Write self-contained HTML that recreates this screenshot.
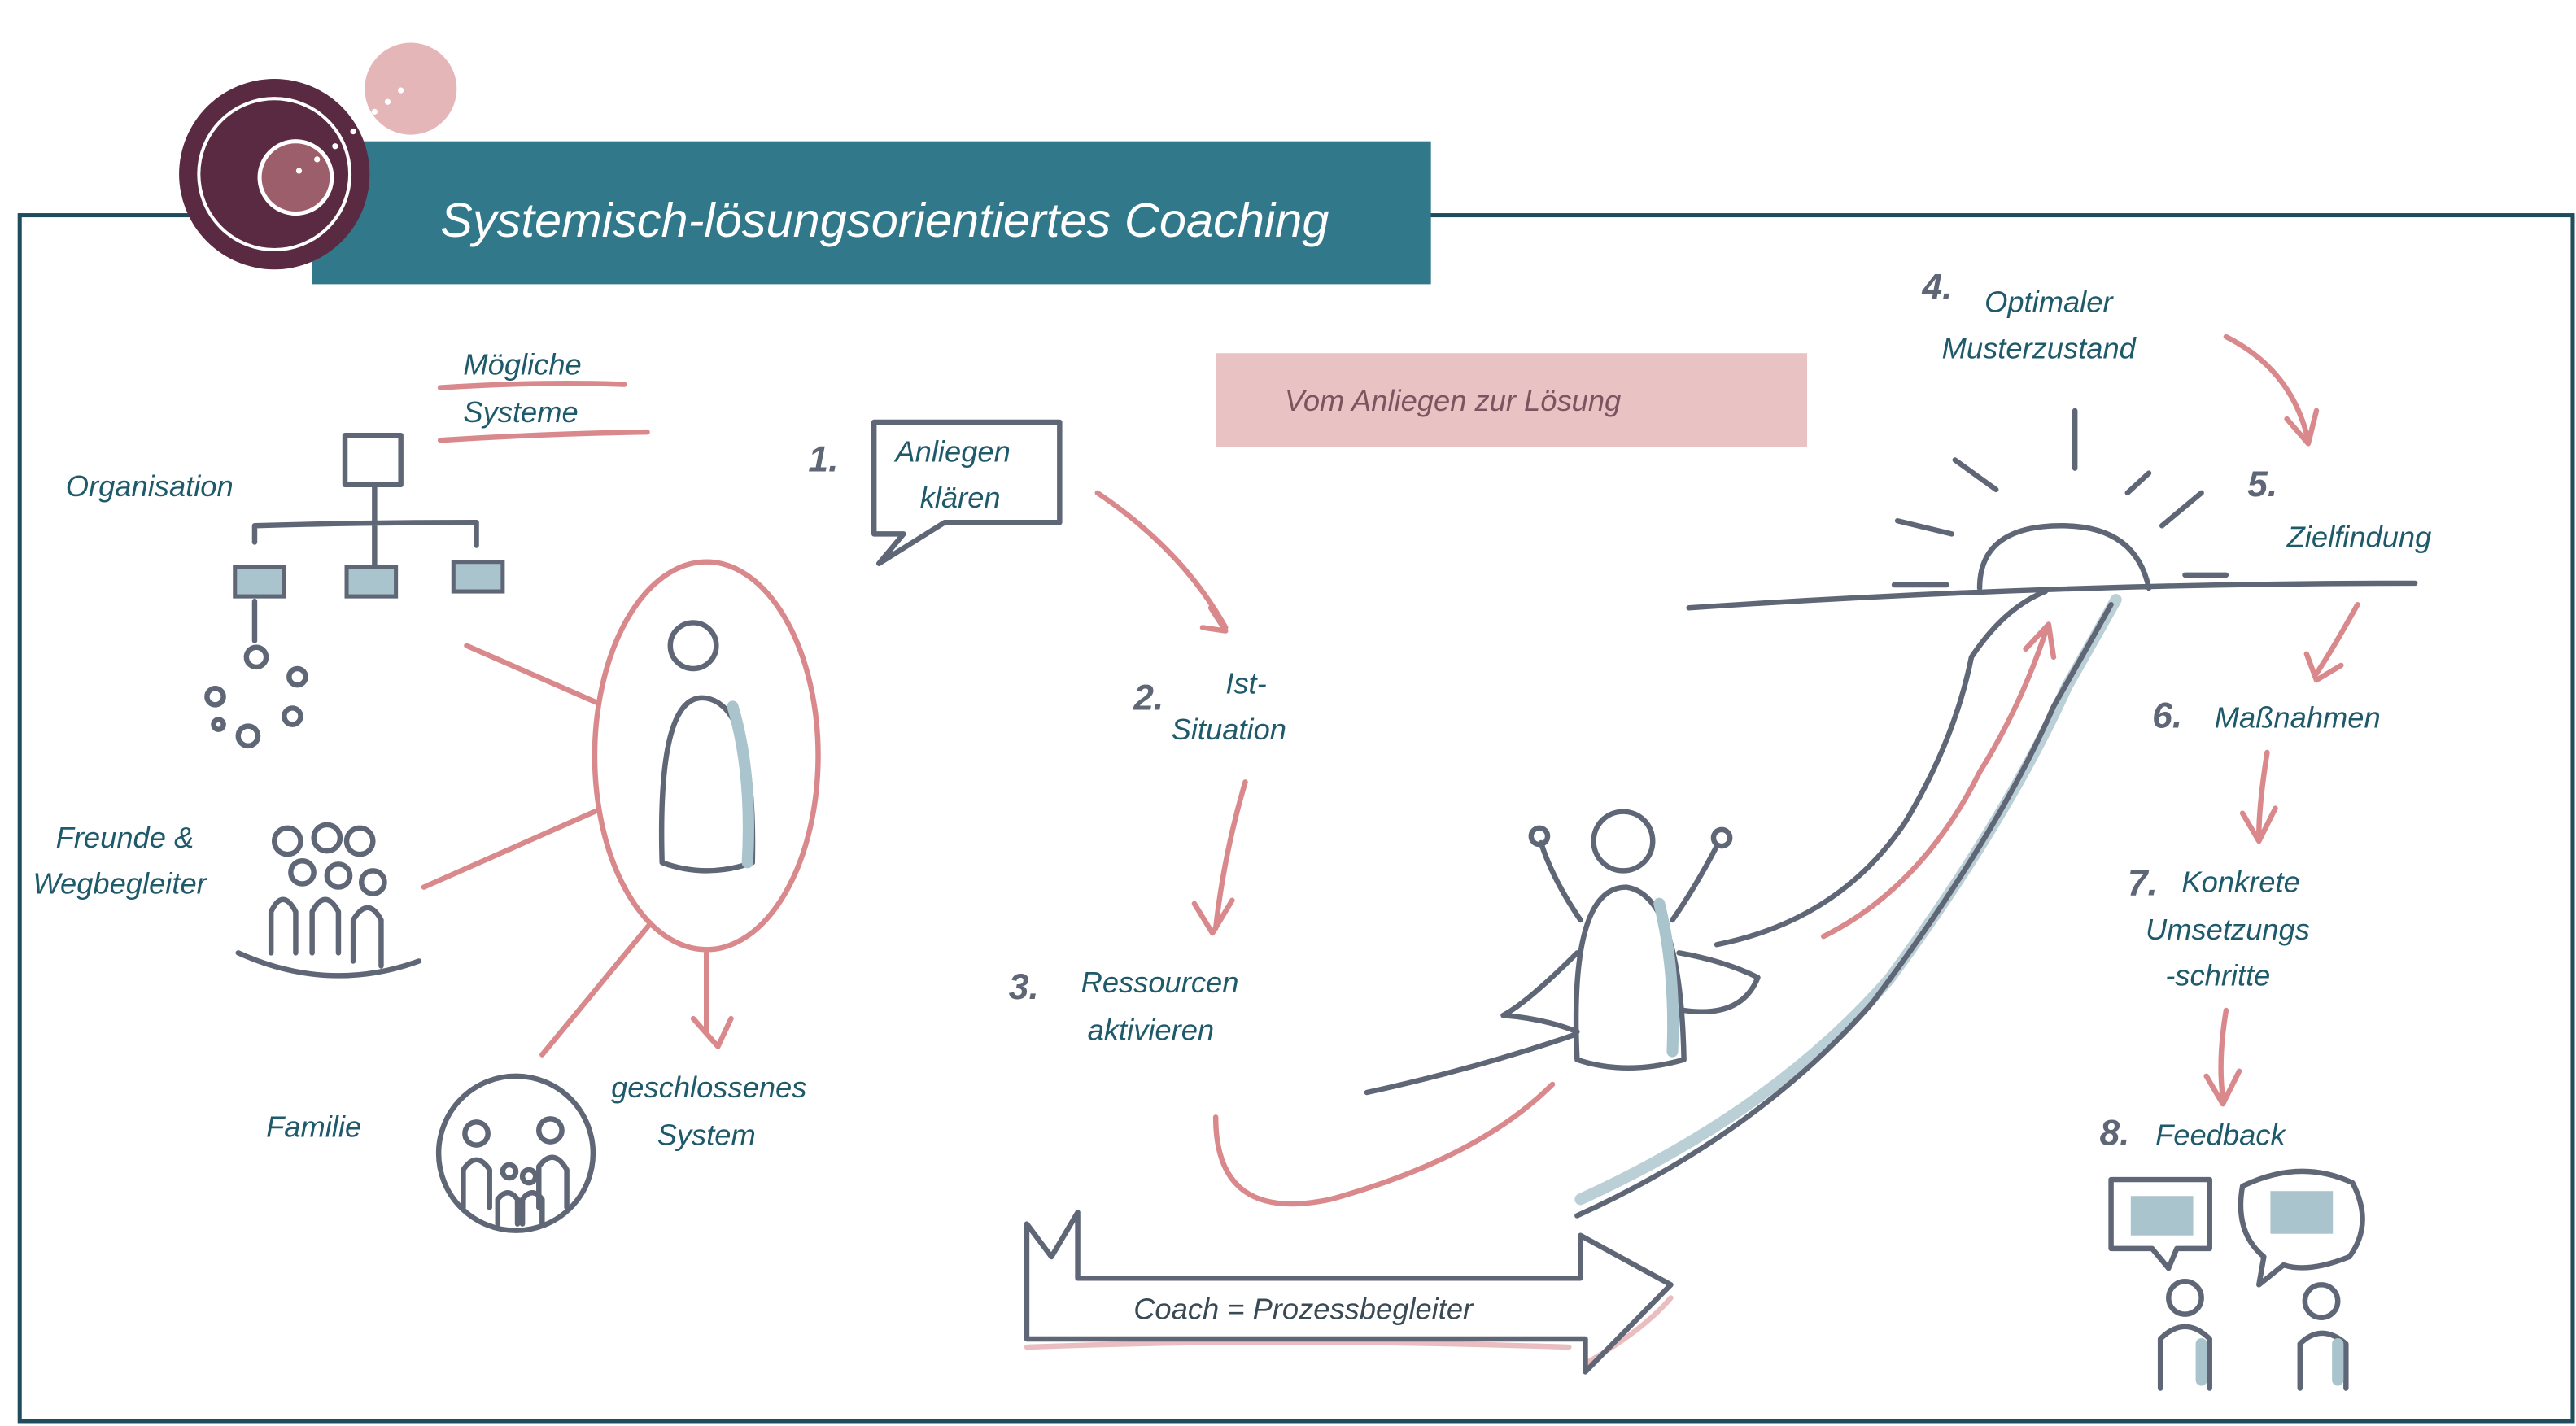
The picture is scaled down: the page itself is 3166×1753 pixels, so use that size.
<!DOCTYPE html>
<html><head><meta charset="utf-8"><style>
html,body{margin:0;padding:0;background:#fff;}
svg{display:block;}
text{font-family:"Liberation Sans",sans-serif;font-style:italic;}
.t{fill:#1f5a6b;font-size:18px;}
.g{fill:none;stroke:#5f6676;stroke-width:3.2;stroke-linecap:round;stroke-linejoin:round;}
.p{fill:none;stroke:#d9898c;stroke-width:3.2;stroke-linecap:round;stroke-linejoin:round;}
.b{fill:none;stroke:#a9c4cc;stroke-width:7;stroke-linecap:round;}
.n{fill:#5f6676;font-size:22px;font-weight:bold;}
</style></head><body>
<svg width="3166" height="1753" viewBox="0 0 1568 868" preserveAspectRatio="none" xmlns="http://www.w3.org/2000/svg">
<rect x="12" y="131" width="1554" height="734" fill="none" stroke="#1f4d5e" stroke-width="2.5"/>
<rect x="190" y="86" width="681" height="87" fill="#31788b"/>
<text x="268" y="144" fill="#fff" font-size="29.5">Systemisch-lösungsorientiertes Coaching</text>
<circle cx="167" cy="106" r="58" fill="#5a2a42"/>
<circle cx="167" cy="106" r="46" fill="none" stroke="#fff" stroke-width="2"/>
<circle cx="180" cy="108" r="22" fill="#9c5e6a" stroke="#fff" stroke-width="2.5"/>
<circle cx="250" cy="54" r="28" fill="#dc9ea0" opacity="0.75"/>
<g fill="#fff"><circle cx="182" cy="104" r="1.8"/><circle cx="193" cy="97" r="1.8"/><circle cx="204" cy="89" r="1.8"/><circle cx="215" cy="80" r="1.8"/><circle cx="228" cy="68" r="1.8"/><circle cx="236" cy="62" r="1.8"/><circle cx="244" cy="55" r="1.8"/></g>

<rect x="740" y="215" width="360" height="57" fill="#e9c3c3"/>
<text x="782" y="250" fill="#7a5560" font-size="18">Vom Anliegen zur Lösung</text>

<text class="t" x="282" y="228">Mögliche</text>
<text class="t" x="282" y="257">Systeme</text>
<path class="p" d="M268 236 Q330 232 380 234 M268 268 Q330 264 394 263" stroke-width="1.6"/>
<text class="t" x="40" y="302">Organisation</text>
<rect class="g" x="210" y="265" width="34" height="30"/>
<path class="g" d="M228 296 V318 M155 330 V320 Q220 318 290 318 V332 M228 318 V345"/>
<rect x="143" y="345" width="30" height="18" fill="#a9c4cc" stroke="#5f6676" stroke-width="2.5"/>
<rect x="211" y="345" width="30" height="18" fill="#a9c4cc" stroke="#5f6676" stroke-width="2.5"/>
<rect x="276" y="342" width="30" height="18" fill="#a9c4cc" stroke="#5f6676" stroke-width="2.5"/>
<path class="g" d="M155 366 V390"/>
<g class="g"><circle cx="156" cy="400" r="6"/><circle cx="131" cy="424" r="5"/><circle cx="181" cy="412" r="5"/><circle cx="178" cy="436" r="5"/><circle cx="151" cy="448" r="6"/><circle cx="133" cy="441" r="3"/></g>
<text class="t" x="34" y="516">Freunde &amp;</text>
<text class="t" x="20" y="544">Wegbegleiter</text>
<g class="g"><circle cx="175" cy="512" r="8"/><circle cx="199" cy="510" r="8"/><circle cx="219" cy="512" r="8"/><circle cx="184" cy="531" r="7"/><circle cx="206" cy="533" r="7"/><circle cx="227" cy="537" r="7"/>
<path d="M165 580 V555 Q172 540 180 555 V580 M190 580 V555 Q198 540 206 555 V580 M215 585 V560 Q224 545 232 560 V588 M145 580 Q200 605 255 585"/></g>
<text class="t" x="162" y="692">Familie</text>
<circle class="g" cx="314" cy="702" r="47"/>
<g class="g"><circle cx="290" cy="690" r="7"/><circle cx="335" cy="688" r="7"/><circle cx="310" cy="713" r="4"/><circle cx="322" cy="716" r="4"/>
<path d="M282 735 V712 Q290 700 298 712 V735 M328 735 V710 Q337 698 345 712 V735 M303 745 V730 Q309 722 315 730 V745 M318 745 V730 Q324 722 330 730 V745"/></g>
<ellipse class="p" cx="430" cy="460" rx="68" ry="118"/>
<path class="p" d="M284 393 L364 428 M258 540 L362 494 M330 642 L396 562 M430 580 V628 M422 620 L437 637 L445 620"/>
<circle class="g" cx="422" cy="393" r="14"/>
<path class="g" d="M403 525 Q400 420 430 425 Q460 430 458 525 Q430 535 403 525"/>
<path class="b" d="M446 430 Q458 470 455 525"/>
<text class="t" x="372" y="668">geschlossenes</text>
<text class="t" x="400" y="697">System</text>

<text class="n" x="492" y="287">1.</text>
<path class="g" d="M532 257 H645 V318 H575 L535 343 L550 325 H532 Z"/>
<text class="t" x="545" y="281">Anliegen</text>
<text class="t" x="560" y="309">klären</text>
<path class="p" d="M668 300 Q720 335 746 382 M737 370 L746 384 L732 382"/>
<text class="n" x="690" y="432">2.</text>
<text class="t" x="746" y="422">Ist-</text>
<text class="t" x="713" y="450">Situation</text>
<path class="p" d="M758 476 Q745 520 740 565 M727 550 L738 568 L750 548"/>
<text class="n" x="614" y="608">3.</text>
<text class="t" x="658" y="604">Ressourcen</text>
<text class="t" x="662" y="633">aktivieren</text>
<path class="p" d="M740 680 Q740 745 810 730 Q900 705 945 660"/>
<path class="p" d="M625 820 Q780 814 955 820 M965 830 Q1000 810 1017 790" stroke-width="9" opacity="0.55"/>
<path class="g" d="M625 815 V745 L640 765 L656 738 V778 H962 V752 L1017 782 L965 835 V815 H625" stroke-width="2.5"/>
<text x="690" y="803" fill="#3a4a55" font-size="18">Coach = Prozessbegleiter</text>

<circle class="g" cx="988" cy="512" r="18"/>
<path class="g" d="M960 645 Q955 540 990 540 Q1023 545 1025 645 Q990 655 960 645"/>
<path class="b" d="M1010 550 Q1020 590 1018 640"/>
<path class="g" d="M962 560 Q945 535 938 513 M1018 560 Q1032 540 1045 515 M960 580 Q930 610 915 618 Q940 620 960 628 M1022 580 Q1050 585 1070 595 Q1060 620 1025 615 M832 665 Q900 650 958 630"/>
<circle class="g" cx="937" cy="509" r="5" stroke-width="2"/><circle class="g" cx="1048" cy="510" r="5" stroke-width="2"/>
<path class="g" d="M1045 575 Q1120 560 1160 500 Q1190 450 1200 400 Q1220 370 1245 360"/>
<path class="b" d="M962 730 Q1080 676 1150 596 Q1222 498 1258 418 Q1278 383 1288 365" stroke-width="15" opacity="0.8"/>
<path class="g" d="M960 740 Q1070 690 1140 610 Q1215 510 1250 430 Q1270 395 1285 368"/>
<path class="p" d="M1110 570 Q1170 540 1205 470 Q1230 430 1245 385 M1233 395 L1247 380 L1250 400"/>
<path class="g" d="M1028 370 Q1250 355 1470 355 M1205 358 Q1205 320 1255 320 Q1300 320 1308 358"/>
<path class="g" d="M1263 250 V285 M1190 280 L1215 298 M1155 317 L1188 325 M1153 356 H1185 M1295 300 L1308 288 M1316 320 L1340 300 M1330 350 H1355"/>
<text class="n" x="1170" y="182">4.</text>
<text class="t" x="1208" y="190">Optimaler</text>
<text class="t" x="1182" y="218">Musterzustand</text>
<path class="p" d="M1355 205 Q1395 225 1405 268 M1392 255 L1405 270 L1410 250"/>
<text class="n" x="1368" y="302">5.</text>
<text class="t" x="1392" y="333">Zielfindung</text>
<path class="p" d="M1435 368 Q1420 395 1410 410 M1404 398 L1410 414 L1425 405"/>
<text class="n" x="1310" y="443">6.</text>
<text class="t" x="1348" y="443">Maßnahmen</text>
<path class="p" d="M1380 458 Q1375 490 1375 508 M1365 495 L1375 512 L1385 492"/>
<text class="n" x="1295" y="545">7.</text>
<text class="t" x="1328" y="543">Konkrete</text>
<text class="t" x="1306" y="572">Umsetzungs</text>
<text class="t" x="1318" y="600">-schritte</text>
<path class="p" d="M1355 615 Q1350 645 1353 668 M1343 655 L1353 672 L1363 652"/>
<text class="n" x="1278" y="697">8.</text>
<text class="t" x="1312" y="697">Feedback</text>
<path class="g" d="M1285 718 H1345 V760 H1325 L1320 772 L1310 760 H1285 Z"/>
<rect x="1297" y="728" width="38" height="24" fill="#a9c4cc"/>
<path class="g" d="M1365 722 Q1400 705 1432 720 Q1445 745 1430 765 Q1405 775 1390 770 L1375 782 L1378 765 Q1360 750 1365 722"/>
<rect x="1382" y="725" width="38" height="26" fill="#a9c4cc"/>
<circle class="g" cx="1330" cy="790" r="10"/>
<path class="g" d="M1315 845 V815 Q1330 800 1345 815 V845"/>
<circle class="g" cx="1413" cy="792" r="10"/>
<path class="g" d="M1400 845 V818 Q1413 805 1428 818 V845"/>
<path class="b" d="M1340 818 V840 M1423 818 V840"/>
</svg>
</body></html>
